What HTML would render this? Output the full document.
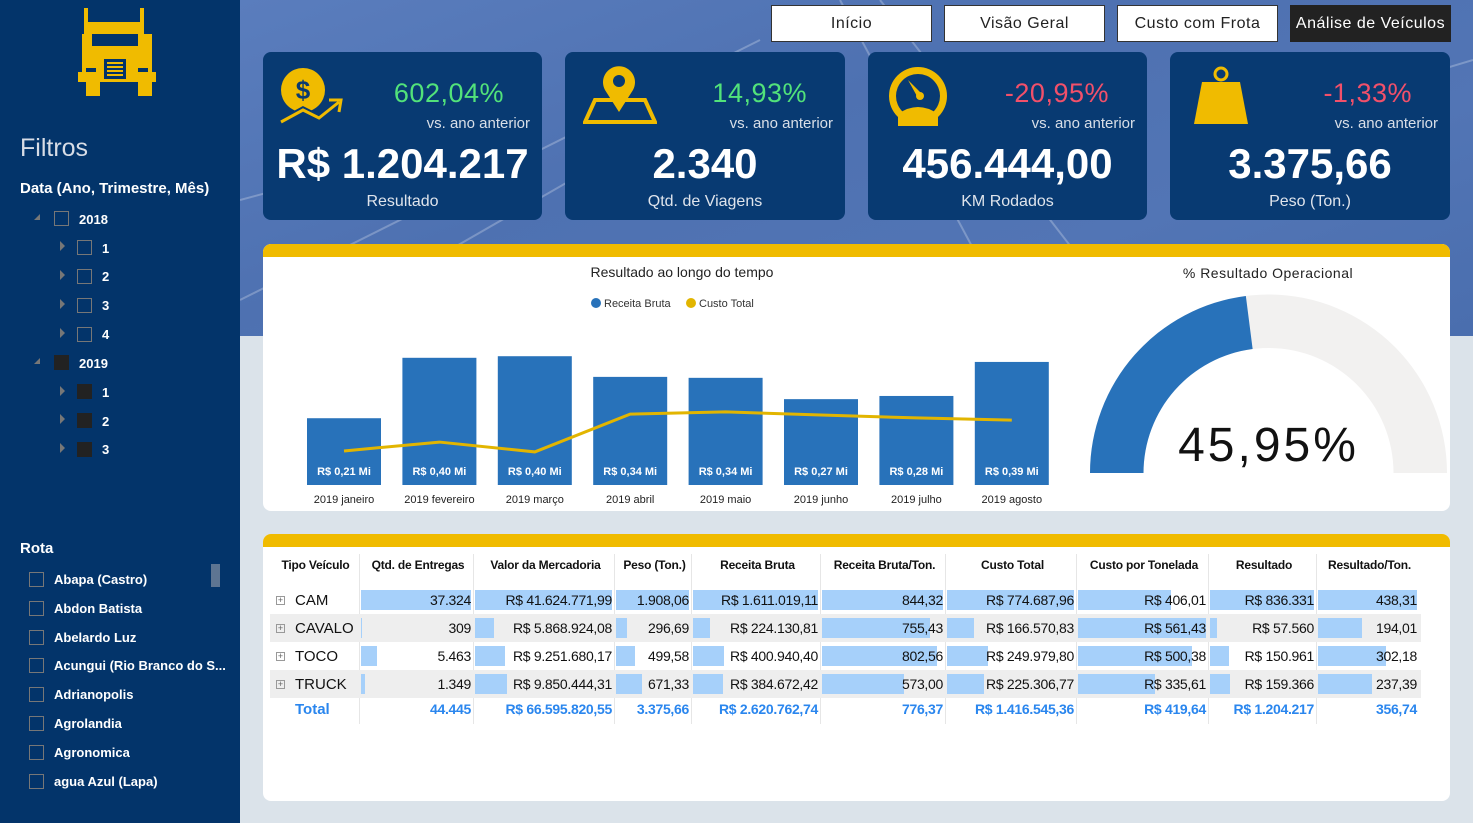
<!DOCTYPE html>
<html><head><meta charset="utf-8">
<style>
*{box-sizing:border-box;margin:0;padding:0}
body{width:1473px;height:823px;overflow:hidden;position:relative;background:#dbe3ea;font-family:"Liberation Sans",sans-serif}
.abs{position:absolute}
#hero{left:240px;top:0;width:1233px;height:336px;background:linear-gradient(160deg,#5a7dbd 0%,#4e71b1 40%,#5275b5 70%,#4a6eae 100%)}
#side{left:0;top:0;width:240px;height:823px;background:#03346a;color:#fff}
.btn{top:5px;height:37px;background:#fff;border:1px solid #333;font-size:16px;text-align:center;line-height:35px;color:#222;letter-spacing:.5px}
.card{top:52px;height:168px;background:#083a72;border-radius:8px;color:#fff}
.card .pct{position:absolute;right:38px;top:26px;font-size:27px;letter-spacing:.5px}
.card .vs{position:absolute;right:12px;top:63px;font-size:15px;color:#d9dfe8}
.card .big{position:absolute;left:0;width:100%;text-align:center;top:88px;font-size:42px;font-weight:bold}
.card .lbl{position:absolute;left:0;width:100%;text-align:center;top:141px;font-size:16px;color:#dfe4ec}
.panel{background:#fff;border-radius:8px;overflow:hidden}
.panel .bar{position:absolute;left:0;top:0;width:100%;height:13px;background:#f0bb00}
.tree{font-size:13px;font-weight:bold}
.cb{position:absolute;width:15px;height:15px;border:1px solid #777}
.cbf{background:#222;border-color:#222}
.arr{position:absolute;width:0;height:0;border-top:5px solid transparent;border-bottom:5px solid transparent;border-left:5px solid #777}
.arrd{position:absolute;width:0;height:0;border-left:6px solid transparent;border-bottom:6px solid #777}
</style></head><body>
<div id="hero" class="abs">
 <svg width="1233" height="336" style="position:absolute;left:0;top:0">
  <g stroke="rgba(255,255,255,.25)" stroke-width="2" fill="none">
   <line x1="0" y1="300" x2="520" y2="40"/><line x1="60" y1="336" x2="540" y2="60"/>
   <line x1="600" y1="0" x2="780" y2="336"/><line x1="640" y1="0" x2="900" y2="336"/>
   <line x1="0" y1="200" x2="300" y2="120"/><line x1="1100" y1="100" x2="1233" y2="60"/>
  </g>
 </svg>
</div>
<div id="side" class="abs">
 <svg class="abs" style="left:78px;top:8px" width="78" height="90" viewBox="0 0 78 90">
  <path fill="#f0bb00" d="M6 0h4v14h52V0h4v26l8 0v38h4v10h-4v14h-14V74H22v14H8V74H0V64h4V26h2z"/>
  <rect x="14" y="26" width="46" height="12" fill="#03346a"/>
  <rect x="26" y="51" width="22" height="20" fill="#03346a"/>
  <g fill="#f0bb00"><rect x="29" y="54" width="16" height="2"/><rect x="29" y="58" width="16" height="2"/><rect x="29" y="62" width="16" height="2"/><rect x="29" y="66" width="16" height="2"/></g>
  <rect x="8" y="60" width="10" height="4" fill="#03346a"/><rect x="60" y="60" width="10" height="4" fill="#03346a"/>
 </svg>
 <div class="abs" style="left:20px;top:134px;font-size:25px;color:#d8dde6">Filtros</div>
 <div class="abs" style="left:20px;top:180px;font-size:15px;font-weight:bold">Data (Ano, Trimestre, Mês)</div>
 <div class="tree">
  <div class="arrd" style="left:34px;top:214px"></div>
  <div class="cb" style="left:54px;top:211px"></div>
  <div class="abs" style="left:79px;top:212px">2018</div>
  <div class="arr" style="left:60px;top:241px"></div><div class="cb" style="left:77px;top:240px"></div><div class="abs" style="left:102px;top:241px">1</div>
  <div class="arr" style="left:60px;top:270px"></div><div class="cb" style="left:77px;top:269px"></div><div class="abs" style="left:102px;top:269px">2</div>
  <div class="arr" style="left:60px;top:299px"></div><div class="cb" style="left:77px;top:298px"></div><div class="abs" style="left:102px;top:298px">3</div>
  <div class="arr" style="left:60px;top:328px"></div><div class="cb" style="left:77px;top:327px"></div><div class="abs" style="left:102px;top:327px">4</div>
  <div class="arrd" style="left:34px;top:358px"></div>
  <div class="cb cbf" style="left:54px;top:355px"></div>
  <div class="abs" style="left:79px;top:356px">2019</div>
  <div class="arr" style="left:60px;top:386px"></div><div class="cb cbf" style="left:77px;top:384px"></div><div class="abs" style="left:102px;top:385px">1</div>
  <div class="arr" style="left:60px;top:414px"></div><div class="cb cbf" style="left:77px;top:413px"></div><div class="abs" style="left:102px;top:414px">2</div>
  <div class="arr" style="left:60px;top:443px"></div><div class="cb cbf" style="left:77px;top:442px"></div><div class="abs" style="left:102px;top:442px">3</div>
 </div>
 <div class="abs" style="left:20px;top:540px;font-size:15px;font-weight:bold">Rota</div>
 <div class="abs" style="left:211px;top:564px;width:9px;height:23px;background:#5e7592"></div>
 <div id="routes" class="tree"></div>
</div>

<div class="abs btn" style="left:771px;width:161px">Início</div>
<div class="abs btn" style="left:944px;width:161px">Visão Geral</div>
<div class="abs btn" style="left:1117px;width:161px">Custo com Frota</div>
<div class="abs btn" style="left:1290px;width:161px;background:#222;color:#fff;border-color:#222">Análise de Veículos</div>

<div class="abs card" style="left:263px;width:279px">
 <svg class="abs" style="left:16px;top:14px" width="66" height="60" viewBox="0 0 66 60">
  <circle cx="24" cy="24" r="22" fill="#f0bb00"/><text x="24" y="33" text-anchor="middle" font-size="26" font-weight="bold" fill="#083a72" font-family="Liberation Sans">$</text>
  <polyline points="2,56 24,44 40,52 60,36" fill="none" stroke="#083a72" stroke-width="7"/>
  <polyline points="2,56 24,44 40,52 60,36" fill="none" stroke="#f0bb00" stroke-width="3"/>
  <polyline points="50,34 62,34 60,46" fill="none" stroke="#f0bb00" stroke-width="3"/>
 </svg>
 <div class="pct" style="color:#52e27a">602,04%</div>
 <div class="vs">vs. ano anterior</div>
 <div class="big">R$ 1.204.217</div>
 <div class="lbl">Resultado</div>
</div>
<div class="abs card" style="left:565px;width:280px">
 <svg class="abs" style="left:18px;top:14px" width="74" height="60" viewBox="0 0 74 60">
  <polygon points="12,34 62,34 72,56 2,56" fill="none" stroke="#f0bb00" stroke-width="4"/>
  <path d="M36 46 L22 24 A16 16 0 1 1 50 24 Z" fill="#f0bb00"/><circle cx="36" cy="15" r="6" fill="#083a72"/>
 </svg>
 <div class="pct" style="color:#52e27a">14,93%</div>
 <div class="vs">vs. ano anterior</div>
 <div class="big">2.340</div>
 <div class="lbl">Qtd. de Viagens</div>
</div>
<div class="abs card" style="left:868px;width:279px">
 <svg class="abs" style="left:20px;top:14px" width="60" height="60" viewBox="0 0 60 60">
  <circle cx="30" cy="30" r="29" fill="#f0bb00"/><circle cx="30" cy="30" r="22" fill="#083a72"/>
  <path d="M10 48 Q30 34 50 48 L50 60 L10 60Z" fill="#f0bb00"/>
  <polygon points="20,14 34,28 30,32" fill="#f0bb00"/><circle cx="32" cy="30" r="4" fill="#f0bb00"/>
 </svg>
 <div class="pct" style="color:#f2506a">-20,95%</div>
 <div class="vs">vs. ano anterior</div>
 <div class="big">456.444,00</div>
 <div class="lbl">KM Rodados</div>
</div>
<div class="abs card" style="left:1170px;width:280px">
 <svg class="abs" style="left:22px;top:12px" width="60" height="62" viewBox="0 0 60 62">
  <circle cx="29" cy="10" r="6" fill="none" stroke="#f0bb00" stroke-width="3"/>
  <polygon points="10,18 48,18 56,60 2,60" fill="#f0bb00"/>
 </svg>
 <div class="pct" style="color:#f2506a">-1,33%</div>
 <div class="vs">vs. ano anterior</div>
 <div class="big">3.375,66</div>
 <div class="lbl">Peso (Ton.)</div>
</div>

<div class="abs panel" style="left:263px;top:244px;width:1187px;height:267px">
 <div class="bar"></div>
 <svg id="chart" class="abs" style="left:0;top:0" width="1187" height="267"></svg>
</div>

<div class="abs panel" style="left:263px;top:534px;width:1187px;height:267px">
 <div class="bar"></div>
 <div id="tbl"></div>
</div>

<script>
const months=["2019 janeiro","2019 fevereiro","2019 março","2019 abril","2019 maio","2019 junho","2019 julho","2019 agosto"];
const receita=[0.21,0.40,0.405,0.34,0.337,0.27,0.28,0.387];
const receitaLabels=["R$ 0,21 Mi","R$ 0,40 Mi","R$ 0,40 Mi","R$ 0,34 Mi","R$ 0,34 Mi","R$ 0,27 Mi","R$ 0,28 Mi","R$ 0,39 Mi"];
const custo=[0.107,0.135,0.104,0.223,0.23,0.22,0.211,0.204];
const gaugeValue=0.4595;
const gaugeLabel="45,95%";

const routes=["Abapa (Castro)","Abdon Batista","Abelardo Luz","Acungui (Rio Branco do S...","Adrianopolis","Agrolandia","Agronomica","agua Azul (Lapa)"];
const cols=["Tipo Veículo","Qtd. de Entregas","Valor da Mercadoria","Peso (Ton.)","Receita Bruta","Receita Bruta/Ton.","Custo Total","Custo por Tonelada","Resultado","Resultado/Ton."];
const types=["CAM","CAVALO","TOCO","TRUCK"];
const entregas=[37324,309,5463,1349];
const valorMerc=[41624771.99,5868924.08,9251680.17,9850444.31];
const peso=[1908.06,296.69,499.58,671.33];
const recBruta=[1611019.11,224130.81,400940.40,384672.42];
const recTon=[844.32,755.43,802.56,573.00];
const custoTot=[774687.96,166570.83,249979.80,225306.77];
const custoTon=[406.01,561.43,500.38,335.61];
const resultado=[836331,57560,150961,159366];
const resTon=[438.31,194.01,302.18,237.39];
const totals=["Total","44.445","R$ 66.595.820,55","3.375,66","R$ 2.620.762,74","776,37","R$ 1.416.545,36","R$ 419,64","R$ 1.204.217","356,74"];

const NS="http://www.w3.org/2000/svg";
function mk(tag,attrs,parent){const e=document.createElementNS(NS,tag);for(const k in attrs)e.setAttribute(k,attrs[k]);parent.appendChild(e);return e;}
const svg=document.getElementById('chart');
const F='"Liberation Sans",sans-serif';
let t=mk('text',{x:419,y:33,'text-anchor':'middle','font-size':14,'font-family':F,fill:'#222'},svg);t.textContent="Resultado ao longo do tempo";

let c=mk('circle',{cx:333,cy:59,r:5,fill:'#2872ba'},svg);
t=mk('text',{x:341,y:63,'font-size':11,'font-family':F,fill:'#333'},svg);t.textContent="Receita Bruta";
c=mk('circle',{cx:428,cy:59,r:5,fill:'#e2b500'},svg);
t=mk('text',{x:436,y:63,'font-size':11,'font-family':F,fill:'#333'},svg);t.textContent="Custo Total";
const base=241, pxPerUnit=318, x0=81, step=95.4, bw=74;
const xc=i=>x0+i*step, yv=v=>base-v*pxPerUnit;
months.forEach((m,i)=>{
 const r=mk('rect',{x:xc(i)-bw/2,y:yv(receita[i]),width:bw,height:base-yv(receita[i]),fill:'#2872ba'},svg);
 
 let l=mk('text',{x:xc(i),y:base-10,'text-anchor':'middle','font-size':11,'font-weight':'bold','font-family':F,fill:'#fff'},svg);l.textContent=receitaLabels[i];
 
 l=mk('text',{x:xc(i),y:259,'text-anchor':'middle','font-size':11,'font-family':F,fill:'#222'},svg);l.textContent=m;
 
});
const pl=mk('polyline',{points:custo.map((v,i)=>xc(i)+','+yv(v)).join(' '),fill:'none',stroke:'#e2b500','stroke-width':3},svg);

t=mk('text',{x:1005,y:34,'text-anchor':'middle','font-size':14,'font-family':F,fill:'#222','letter-spacing':'.5'},svg);t.textContent="% Resultado Operacional";

const gcx=1005.5,gcy=229,R=178.5,r0=125;
function arc(a0,a1){const p=(rr,a)=>[gcx+rr*Math.cos(a),gcy-rr*Math.sin(a)];const A=p(R,a0),B=p(R,a1),C=p(r0,a1),D=p(r0,a0);
 return `M${A} A${R},${R} 0 0 1 ${B} L${C} A${r0},${r0} 0 0 0 ${D}Z`;}
let g=mk('path',{d:arc(Math.PI,0),fill:'#f2f1f0'},svg);
g=mk('path',{d:arc(Math.PI,Math.PI*(1-gaugeValue)),fill:'#2872ba'},svg);
t=mk('text',{x:gcx,y:gcy-12,'text-anchor':'middle','font-size':48,'font-family':F,fill:'#111','letter-spacing':'3'},svg);t.textContent=gaugeLabel;


const rc=document.getElementById('routes');
routes.forEach((r,i)=>{
 const y=572+i*28.8;
 const b=document.createElement('div');b.className='cb';b.style.left='29px';b.style.top=y+'px';
 rc.appendChild(b);
 const l=document.createElement('div');l.className='abs';l.style.left='54px';l.style.top=(y)+'px';l.textContent=r;
 rc.appendChild(l);
});

function fmt(v,d){return v.toLocaleString('de-DE',{minimumFractionDigits:d,maximumFractionDigits:d});}
const colX=[270,361,475,616,693,822,947,1078,1210,1318,1421].map(v=>v-263);
const series=[entregas,valorMerc,peso,recBruta,recTon,custoTot,custoTon,resultado,resTon];
const fm=[v=>fmt(v,0),v=>'R$ '+fmt(v,2),v=>fmt(v,2),v=>'R$ '+fmt(v,2),v=>fmt(v,2),v=>'R$ '+fmt(v,2),v=>'R$ '+fmt(v,2),v=>'R$ '+fmt(v,0),v=>fmt(v,2)];
const tb=document.getElementById('tbl');
function div(css,txt,name,inter){const d=document.createElement('div');d.className='abs';d.style.cssText=css;if(txt!=null)d.textContent=txt;
 tb.appendChild(d);return d;}
cols.forEach((h,j)=>{
 div(`left:${colX[j]}px;top:24px;width:${colX[j+1]-colX[j]}px;text-align:center;font-size:12px;font-weight:bold;color:#111;white-space:nowrap;letter-spacing:-.2px`,h,'header-'+j,'true');
 if(j>0)div(`left:${colX[j]-2}px;top:20px;width:1px;height:170px;background:#e6e6e6`,null,'col-divider-'+j,'false');
});
types.forEach((ty,i)=>{
 const y=52+i*28;
 if(i%2==1)div(`left:7px;top:${y}px;width:1151px;height:28px;background:#eeeeee`,null,'row-bg-'+i,'false');
 div(`left:13px;top:${y+10}px;width:9px;height:9px;border:1px solid #999;font-size:9px;line-height:7px;text-align:center;color:#666`,'+','expand-'+ty,'true');
 div(`left:32px;top:${y+6}px;font-size:15px;color:#111`,ty,'type-'+ty,'false');
 series.forEach((s,j)=>{
  const mx=Math.max(...s), w=colX[j+2]-colX[j+1]-4;
  div(`left:${colX[j+1]}px;top:${y+4}px;width:${w*s[i]/mx}px;height:20px;background:#a6d0fa`,null,'databar-'+j+'-'+i,'false');
  div(`left:${colX[j+1]}px;top:${y+6}px;width:${w}px;text-align:right;font-size:14px;color:#111;white-space:nowrap;letter-spacing:-.3px`,fm[j](s[i]),'cell-'+j+'-'+i,'false');
 });
});
totals.forEach((v,j)=>{
 const css=j==0?`left:32px;top:167px;font-size:15px;font-weight:bold;color:#2a86ee`:`left:${colX[j]}px;top:167px;width:${colX[j+1]-colX[j]-4}px;text-align:right;font-size:14px;font-weight:bold;color:#2a86ee;white-space:nowrap;letter-spacing:-.3px`;
 div(css,v,'total-'+j,'false');
});
</script>
</body></html>
